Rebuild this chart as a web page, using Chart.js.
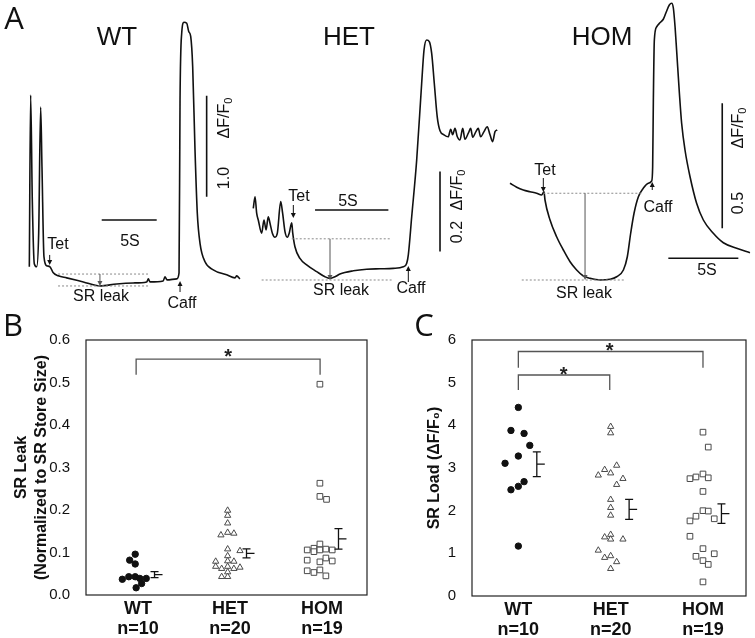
<!DOCTYPE html>
<html lang="en">
<head>
<meta charset="UTF-8">
<title>SR leak / SR load</title>
<script src="https://cdn.jsdelivr.net/npm/chart.js"></script>
<style>
  body { margin: 0; background: #fff; width: 755px; height: 638px; position: relative; overflow: hidden;
         font-family: "Liberation Sans", Arial, sans-serif; color: #111; }
  canvas { position: absolute; }
  .lbl { position: absolute; white-space: nowrap; transform: translate(-50%, -50%); font-size: 16px; line-height: 1; }
  .rot { transform: translate(-50%, -50%) rotate(-90deg); }
  .big { font-size: 26px; }
  .panel { font-family: "Open Sans", sans-serif; font-size: 31px; }
  sub { font-size: 11px; vertical-align: -3px; line-height: 0; }
</style>
</head>
<body>
<canvas id="trWT" width="245" height="300" style="left:0;top:0"></canvas>
<canvas id="trHET" width="255" height="300" style="left:245px;top:0"></canvas>
<canvas id="trHOM" width="255" height="300" style="left:500px;top:0"></canvas>
<canvas id="leak" width="375" height="308" style="left:0;top:330px"></canvas>
<canvas id="load" width="380" height="308" style="left:375px;top:330px"></canvas>

<!-- panel A labels -->
<div class="lbl panel" style="left:14px;top:17px">A</div>
<div class="lbl big" style="left:117px;top:36px">WT</div>
<div class="lbl big" style="left:349px;top:36px">HET</div>
<div class="lbl big" style="left:602px;top:36px">HOM</div>

<div class="lbl" style="left:58px;top:244px">Tet</div>
<div class="lbl" style="left:130px;top:241px">5S</div>
<div class="lbl" style="left:101px;top:296px">SR leak</div>
<div class="lbl" style="left:182px;top:303px">Caff</div>
<div class="lbl rot" style="left:224px;top:118px">ΔF/F<sub>0</sub></div>
<div class="lbl rot" style="left:224px;top:178px">1.0</div>

<div class="lbl" style="left:299px;top:196px">Tet</div>
<div class="lbl" style="left:348px;top:201px">5S</div>
<div class="lbl" style="left:341px;top:290px">SR leak</div>
<div class="lbl" style="left:411px;top:288px">Caff</div>
<div class="lbl rot" style="left:457px;top:190px">ΔF/F<sub>0</sub></div>
<div class="lbl rot" style="left:457px;top:232px">0.2</div>

<div class="lbl" style="left:545px;top:170px">Tet</div>
<div class="lbl" style="left:658px;top:207px">Caff</div>
<div class="lbl" style="left:584px;top:293px">SR leak</div>
<div class="lbl" style="left:707px;top:270px">5S</div>
<div class="lbl rot" style="left:738px;top:128px">ΔF/F<sub>0</sub></div>
<div class="lbl rot" style="left:738px;top:203px">0.5</div>

<div class="lbl panel" style="left:13px;top:324px">B</div>
<div class="lbl panel" style="left:424px;top:324px">C</div>

<script>
  // ---- panel A traces: time (s) and ΔF/F0 ----
  const wtT = [0.03, 0.15, 0.30, 0.48, 0.70, 0.88, 1.06, 1.18, 1.36, 1.61, 1.91, 2.21, 2.66, 3.43, 4.94, 6.45, 7.97, 9.48, 10.7, 10.85, 11.0, 12.2, 12.36, 12.55, 13.43, 13.64, 13.73, 13.88, 14.09, 14.34, 14.52, 14.7, 14.88, 15.09, 15.3, 15.55, 16.0, 16.75, 17.97, 18.73, 18.88, 19.18];
  const wtF = [0.23, 1.93, 0.89, 0.26, 0.23, 0.56, 1.81, 1.22, 0.33, 0.24, 0.23, 0.17, 0.14, 0.12, 0.08, 0.04, 0.06, 0.07, 0.08, 0.11, 0.08, 0.09, 0.13, 0.10, 0.11, 0.17, 1.88, 2.54, 2.65, 2.64, 2.56, 2.51, 2.21, 1.39, 0.76, 0.46, 0.28, 0.20, 0.15, 0.12, 0.14, 0.11];

  const hetT = [0.02, 0.14, 0.25, 0.36, 0.59, 0.75, 0.89, 1.04, 1.16, 1.32, 1.50, 1.66, 1.89, 2.02, 2.18, 2.34, 2.47, 2.64, 2.71, 2.86, 3.20, 3.66, 4.34, 4.91, 5.25, 5.59, 5.93, 6.84, 7.75, 8.66, 9.56, 10.25, 10.48, 10.59, 10.82, 11.16, 11.5, 11.66, 11.84, 12.02, 12.18, 12.36, 12.56, 12.75, 13.02, 13.31, 13.48, 13.61, 13.77, 13.93, 14.11, 14.30, 14.45, 14.68, 14.84, 14.98, 15.2, 15.36, 15.52, 15.75, 15.97, 16.16, 16.34, 16.5, 16.65];
  const hetF = [0.179, 0.208, 0.167, 0.150, 0.117, 0.150, 0.125, 0.158, 0.142, 0.117, 0.107, 0.117, 0.196, 0.167, 0.121, 0.107, 0.117, 0.143, 0.117, 0.083, 0.054, 0.038, 0.021, 0.008, 0.004, 0.008, 0.015, 0.023, 0.027, 0.028, 0.029, 0.033, 0.042, 0.063, 0.158, 0.300, 0.492, 0.575, 0.600, 0.596, 0.567, 0.492, 0.408, 0.373, 0.363, 0.358, 0.377, 0.363, 0.379, 0.358, 0.350, 0.379, 0.352, 0.367, 0.379, 0.357, 0.371, 0.379, 0.358, 0.371, 0.383, 0.363, 0.346, 0.371, 0.375];

  const homT = [0, 0.48, 0.95, 1.43, 1.90, 2.26, 2.43, 2.5, 2.86, 3.33, 3.81, 4.29, 4.76, 5.24, 5.71, 6.43, 7.14, 7.62, 8.1, 8.38, 8.62, 8.86, 9.17, 9.52, 9.88, 10.12, 10.19, 10.24, 10.31, 10.48, 10.71, 10.95, 11.14, 11.38, 11.55, 11.67, 11.79, 11.9, 12.1, 12.26, 12.5, 12.86, 13.33, 13.81, 14.52, 15.24, 16.19, 17.14];
  const homF = [0.387, 0.371, 0.36, 0.353, 0.347, 0.34, 0.353, 0.32, 0.24, 0.173, 0.12, 0.073, 0.04, 0.016, 0.007, 0, 0.003, 0.013, 0.04, 0.093, 0.187, 0.267, 0.333, 0.367, 0.387, 0.396, 0.453, 0.72, 0.96, 1.013, 1.029, 1.043, 1.069, 1.1, 1.107, 1.087, 1.013, 0.92, 0.747, 0.627, 0.52, 0.413, 0.307, 0.24, 0.187, 0.149, 0.127, 0.109];

  const timeBar = 5;               // 5S scale bar
  const fBars = [1.0, 0.2, 0.5];   // ΔF/F0 scale bars WT, HET, HOM

  // ---- panels B and C ----
  const groups = ['WT', 'HET', 'HOM'];
  const groupN = ['n=10', 'n=20', 'n=19'];

  // SR leak (normalized), with horizontal jitter in category units
  const leakWT = [0.096, 0.082, 0.073, 0.037, 0.043, 0.043, 0.039, 0.039, 0.027, 0.017];
  const leakWTx = [-0.03, -0.09, -0.03, -0.17, -0.10, -0.03, 0.02, 0.09, 0.04, -0.02];
  const leakHET = [0.199, 0.187, 0.169, 0.147, 0.108, 0.092, 0.080, 0.067, 0.054, 0.043, 0.141, 0.145, 0.104, 0.079, 0.079, 0.067, 0.062, 0.062, 0.065, 0.043];
  const leakHETx = [-0.025, -0.025, -0.025, -0.025, -0.025, -0.025, -0.025, -0.025, -0.025, -0.025, -0.098, 0.043, 0.109, -0.155, 0.043, -0.155, -0.09, 0.043, 0.109, -0.09];
  const leakHOM = [0.106, 0.110, 0.102, 0.120, 0.106, 0.108, 0.106, 0.082, 0.078, 0.087, 0.080, 0.057, 0.053, 0.059, 0.045, 0.496, 0.263, 0.232, 0.225];
  const leakHOMx = [-0.16, -0.087, -0.087, -0.022, -0.022, 0.043, 0.112, -0.16, -0.022, 0.043, 0.112, -0.16, -0.087, -0.022, 0.043, -0.022, -0.022, -0.022, 0.05];
  const leakMean = [0.048, 0.098, 0.132];
  const leakSem = [0.007, 0.0105, 0.024];

  // SR load (ΔF/F0)
  const loadWT = [4.42, 3.88, 3.81, 3.53, 3.11, 3.28, 2.68, 2.57, 2.49, 1.17];
  const loadWTx = [0, -0.08, 0.062, 0.124, -0.144, 0, 0.062, 0, -0.08, 0];
  const loadHET = [3.97, 3.82, 3.06, 2.96, 2.88, 2.83, 2.75, 2.61, 2.26, 2.07, 1.89, 1.38, 1.44, 1.33, 1.33, 1.07, 0.90, 0.94, 0.80, 0.64];
  const loadHETx = [0, 0, 0.065, -0.065, 0, -0.134, 0.133, 0.065, 0, 0, 0, -0.065, 0, 0, 0.133, -0.134, -0.065, 0, 0.065, 0];
  const loadHOM = [3.84, 3.49, 2.75, 2.79, 2.86, 2.77, 2.45, 1.76, 1.87, 2.00, 1.99, 1.81, 1.40, 1.11, 0.93, 0.83, 0.74, 0.99, 0.33];
  const loadHOMx = [0, 0.057, -0.141, -0.076, 0, 0.057, 0, -0.141, -0.076, 0, 0.057, 0.122, -0.141, 0, -0.076, 0, 0.057, 0.122, 0];
  const loadMean = [3.09, 2.03, 1.93];
  const loadSem = [0.29, 0.235, 0.23];

  Chart.defaults.font.family = '"Liberation Sans", Arial, sans-serif';
  Chart.defaults.color = '#111';

  function arrow(ctx, x, y0, y1, col) {
    const dir = Math.sign(y1 - y0);
    ctx.strokeStyle = col; ctx.fillStyle = col; ctx.lineWidth = 1;
    ctx.beginPath(); ctx.moveTo(x, y0); ctx.lineTo(x, y1 - dir * 3); ctx.stroke();
    ctx.beginPath(); ctx.moveTo(x, y1); ctx.lineTo(x - 2.5, y1 - dir * 5); ctx.lineTo(x + 2.5, y1 - dir * 5);
    ctx.closePath(); ctx.fill();
  }

  // dotted guide lines, scale bars and arrows of a trace
  const traceMarks = {
    id: 'traceMarks',
    afterDatasetsDraw(chart, args, m) {
      const { ctx, scales: { x, y } } = chart;
      const X = v => x.getPixelForValue(v), Y = v => y.getPixelForValue(v);
      ctx.save();
      ctx.strokeStyle = '#8a8a8a'; ctx.lineWidth = 1; ctx.setLineDash([2, 2]);
      m.dotted.forEach(([t0, t1, v]) => {
        ctx.beginPath(); ctx.moveTo(X(t0), Y(v)); ctx.lineTo(X(t1), Y(v)); ctx.stroke();
      });
      ctx.setLineDash([]);
      ctx.strokeStyle = '#111'; ctx.lineWidth = 1.6;
      ctx.beginPath();
      ctx.moveTo(X(m.hbar[0]), Y(m.hbar[1])); ctx.lineTo(X(m.hbar[0] + timeBar), Y(m.hbar[1]));
      ctx.moveTo(X(m.vbar[0]), Y(m.vbar[1])); ctx.lineTo(X(m.vbar[0]), Y(m.vbar[1] + m.fBar));
      ctx.stroke();
      arrow(ctx, X(m.leak[0]), Y(m.leak[1]), Y(m.leak[2]), '#555');
      arrow(ctx, X(m.tet[0]), Y(m.tet[1]), Y(m.tet[2]), '#111');
      arrow(ctx, X(m.caff[0]), Y(m.caff[1]), Y(m.caff[2]), '#111');
      ctx.restore();
    }
  };

  function traceChart(id, t, f, xr, yr, marks) {
    return new Chart(document.getElementById(id), {
      type: 'line',
      data: { datasets: [{ data: t.map((v, i) => ({ x: v, y: f[i] })), borderColor: '#111', borderWidth: 1.6,
                           pointRadius: 0, cubicInterpolationMode: 'monotone', clip: false }] },
      options: {
        responsive: false, animation: false, events: [],
        layout: { padding: 0, autoPadding: false },
        plugins: { legend: { display: false }, tooltip: { enabled: false }, traceMarks: marks },
        scales: {
          x: { type: 'linear', display: false, min: xr[0], max: xr[1] },
          y: { type: 'linear', display: false, min: yr[0], max: yr[1] }
        }
      },
      plugins: [traceMarks]
    });
  }

  traceChart('trWT', wtT, wtF, [-2.636, 19.636], [-0.099, 2.871], {
    hbar: [6.61, 0.693], vbar: [16.15, 0.924], fBar: fBars[0],
    dotted: [[2.64, 10.82, 0.158], [2.64, 11.0, 0.04]],
    leak: [6.45, 0.158, 0.04], tet: [1.88, 0.347, 0.248], caff: [13.73, -0.02, 0.09]
  });
  traceChart('trHET', hetT, hetF, [-0.545, 16.84], [-0.05, 0.7], {
    hbar: [4.23, 0.175], vbar: [12.75, 0.071], fBar: fBars[1],
    dotted: [[2.64, 9.45, 0.103], [0.59, 9.45, 0]],
    leak: [5.25, 0.103, 0], tet: [2.75, 0.1875, 0.155], caff: [10.59, -0.005, 0.035]
  });
  traceChart('trHOM', homT, homF, [-0.714, 17.5], [-0.08, 1.12], {
    hbar: [11.31, 0.087], vbar: [15.16, 0.207], fBar: fBars[2],
    dotted: [[2.38, 9.52, 0.347], [0.84, 8.21, 0]],
    leak: [5.36, 0.347, 0], tet: [2.38, 0.408, 0.352], caff: [10.16, 0.36, 0.392]
  });

  // box, mean ± SEM bars, significance brackets
  const dotExtras = {
    id: 'dotExtras',
    afterDatasetsDraw(chart, args, o) {
      const { ctx, chartArea: a, scales: { x, y } } = chart;
      ctx.save();
      ctx.strokeStyle = '#222'; ctx.lineWidth = 1.2;
      ctx.strokeRect(a.left, a.top, a.right - a.left, a.bottom - a.top);
      ctx.strokeStyle = '#111'; ctx.lineWidth = 1.3;
      o.means.forEach((m, i) => {
        const px = x.getPixelForValue(i + 1 + o.errOffset);
        const top = y.getPixelForValue(m + o.sems[i]);
        const bot = y.getPixelForValue(m - o.sems[i]);
        const mid = y.getPixelForValue(m);
        ctx.beginPath();
        ctx.moveTo(px, top); ctx.lineTo(px, bot);
        ctx.moveTo(px - 4, top); ctx.lineTo(px + 4, top);
        ctx.moveTo(px - 4, bot); ctx.lineTo(px + 4, bot);
        ctx.moveTo(px, mid); ctx.lineTo(px + 8, mid);
        ctx.stroke();
      });
      ctx.strokeStyle = '#555';
      o.brackets.forEach(b => {
        const x0 = x.getPixelForValue(b.from), x1 = x.getPixelForValue(b.to);
        const yt = y.getPixelForValue(b.top), yl = y.getPixelForValue(b.leg);
        ctx.beginPath();
        ctx.moveTo(x0, yl); ctx.lineTo(x0, yt); ctx.lineTo(x1, yt); ctx.lineTo(x1, yl);
        ctx.stroke();
        ctx.fillStyle = '#222'; ctx.font = 'bold 20px "Liberation Sans", Arial, sans-serif';
        ctx.textAlign = 'center'; ctx.textBaseline = 'middle';
        ctx.fillText('*', x.getPixelForValue(b.starX), y.getPixelForValue(b.starY) + 6);
      });
      ctx.restore();
    }
  };

  function pts(vals, jit, g) {
    return vals.map((v, i) => ({ x: g + jit[i], y: v }));
  }

  function dotChart(id, sets, opt) {
    return new Chart(document.getElementById(id), {
      type: 'scatter',
      data: {
        datasets: [
          { data: pts(sets[0][0], sets[0][1], 1), pointStyle: 'circle', radius: 3.2,
            backgroundColor: '#111', borderColor: '#111', borderWidth: 1 },
          { data: pts(sets[1][0], sets[1][1], 2), pointStyle: 'triangle', radius: 3.6,
            backgroundColor: '#fff', borderColor: '#4a4a4a', borderWidth: 1 },
          { data: pts(sets[2][0], sets[2][1], 3), pointStyle: 'rect', radius: 4,
            backgroundColor: '#fff', borderColor: '#4a4a4a', borderWidth: 1 }
        ]
      },
      options: {
        responsive: false, animation: false, events: [],
        layout: { padding: { top: 10, right: opt.padRight, left: 0, bottom: 0 }, autoPadding: false },
        plugins: { legend: { display: false }, tooltip: { enabled: false }, dotExtras: opt.extras },
        scales: {
          x: {
            type: 'linear', min: opt.xr[0], max: opt.xr[1],
            grid: { display: false }, border: { display: false },
            afterBuildTicks: s => { s.ticks = [{ value: 1 }, { value: 2 }, { value: 3 }]; },
            afterFit: s => { s.height = opt.xh; s.paddingLeft = 0; s.paddingRight = 0; },
            ticks: { padding: -4, color: '#111', font: { size: 18, weight: 'bold', lineHeight: 1.1 },
                     callback: v => [groups[v - 1], groupN[v - 1]] }
          },
          y: {
            min: opt.yr[0], max: opt.yr[1],
            grid: { display: false }, border: { display: false },
            afterFit: s => { s.width = opt.yw; s.paddingTop = 0; s.paddingBottom = 0; },
            ticks: { stepSize: opt.step, padding: 8, color: '#111', font: { size: 15 }, callback: opt.fmt },
            title: { display: true, text: opt.title, color: '#111', font: { size: 16, weight: 'bold', lineHeight: 1.25 },
                     padding: { top: opt.titlePad, bottom: 0 } }
          }
        }
      },
      plugins: [dotExtras]
    });
  }

  dotChart('leak', [[leakWT, leakWTx], [leakHET, leakHETx], [leakHOM, leakHOMx]], {
    xr: [0.435, 3.49], yr: [0, 0.6], step: 0.1, fmt: v => v.toFixed(1),
    xh: 43, yw: 86, padRight: 8, titlePad: 12,
    title: ['SR Leak', '(Normalized to SR Store Size)'],
    extras: {
      means: leakMean, sems: leakSem, errOffset: 0.18,
      brackets: [{ from: 0.98, to: 2.98, top: 0.555, leg: 0.518, starX: 1.98, starY: 0.572 }]
    }
  });

  dotChart('load', [[loadWT, loadWTx], [loadHET, loadHETx], [loadHOM, loadHOMx]], {
    xr: [0.498, 3.466], yr: [0, 6], step: 1, fmt: v => String(v),
    xh: 42, yw: 97, padRight: 9, titlePad: 50,
    title: 'SR Load (ΔF/F₀)',
    extras: {
      means: loadMean, sems: loadSem, errOffset: 0.2,
      brackets: [
        { from: 1.0, to: 3.0, top: 5.73, leg: 5.35, starX: 1.99, starY: 5.86 },
        { from: 1.0, to: 1.99, top: 5.18, leg: 4.83, starX: 1.49, starY: 5.32 }
      ]
    }
  });
</script>
</body>
</html>
